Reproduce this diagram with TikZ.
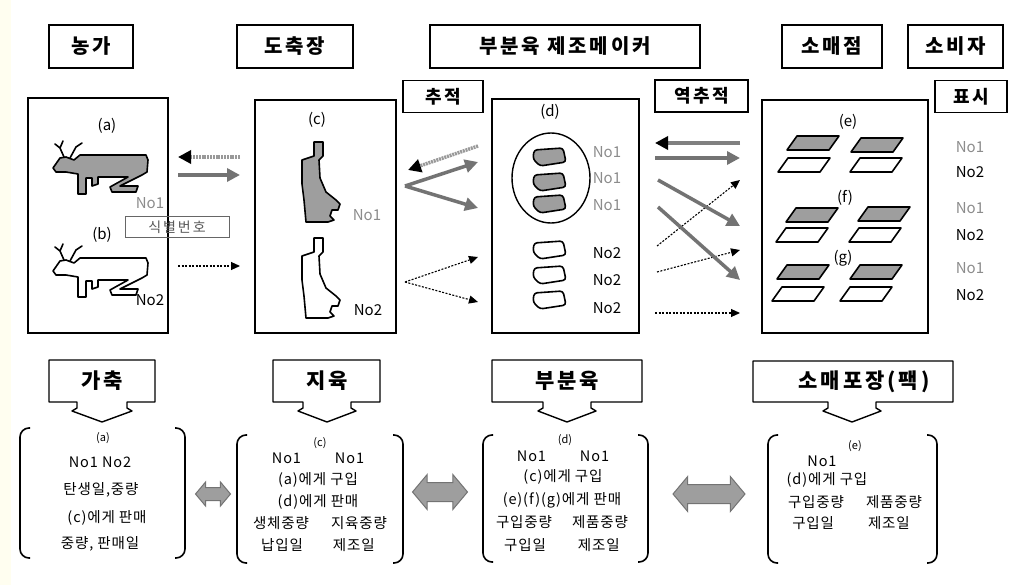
\documentclass[tikz,border=0pt]{standalone}
\usepackage{fontspec}
\setmainfont{Noto Sans CJK KR}
\newfontfamily\hdfont[LetterSpace=14]{Noto Sans CJK KR}
\newfontfamily\btfont[LetterSpace=6]{Noto Sans CJK KR}
\usetikzlibrary{arrows.meta,shapes.arrows}
\tikzset{%
  hdbox/.style={draw,line width=1.4,inner sep=0,minimum height=43,font=\hdfont\bfseries\fontsize{20}{24}\selectfont},
  subbox/.style={draw,line width=1.4,inner sep=0,minimum height=32,font=\hdfont\bfseries\fontsize{18}{22}\selectfont},
  panel/.style={draw,line width=1.4},
  tag/.style={inner sep=0,font=\fontsize{15}{17}\selectfont},
  nlab/.style={inner sep=0,font=\fontsize{15}{17}\selectfont},
  glab/.style={nlab,text=black!45},
  gshape/.style={draw,line width=1.6,fill=black!38,line join=round},
  wshape/.style={draw,line width=1.6,fill=white,line join=round},
  garrow/.style={draw=black!55,line width=3.5,-{Triangle[length=13pt,width=13pt,fill=black!55]}},
  barrow/.style={draw=black!50,line width=3.5,-{Triangle[length=13pt,width=13pt,black]}},
  hatched/.style={draw=black!40,dash pattern=on 2pt off 0.8pt},
  darrow/.style={line width=1.1,dash pattern=on 2pt off 1.5pt,-{Triangle[length=9pt,width=8pt]}},
  callout/.style={draw,line width=1.4,fill=white,line join=round},
  cotext/.style={inner sep=0,font=\hdfont\bfseries\fontsize{21}{24}\selectfont},
  bkt/.style={line width=1.6,rounded corners=9},
  bt/.style={inner sep=0,font=\btfont\fontsize{14.5}{17}\selectfont},
  bts/.style={inner sep=0,font=\fontsize{11}{13}\selectfont},
  dblarr/.style={double arrow,draw=black!55,fill=black!38,line width=1,double arrow tip angle=100},
  cow/.pic={
    \path[pic actions] (1,28) -- (8,18) -- (14,17) -- (22,20) -- (28,15) -- (94,15) -- (96,20)
      -- (95,32) -- (90,35) -- (68,46) -- (86,46) -- (84,52) -- (60,52) -- (58,47) -- (76,37)
      -- (46,37) -- (46,44) -- (40,46) -- (40,38) -- (34,38) -- (34,54) -- (26,54) -- (26,34)
      -- (14,32) -- (4,32) -- cycle;
    \draw[line width=1.6,line cap=round] (12,17) -- (8,8) -- (3,4) (8,8) -- (11,1)
      (18,18) -- (24,7) -- (30,3);
  },
  carcass/.pic={
    \path[pic actions] (14,2) -- (23,2) -- (23,16) -- (19,20) -- (20,38) -- (26,52) -- (36,60)
      -- (40,64) -- (38,70) -- (32,70) -- (30,76) -- (34,80) -- (28,82) -- (6,82) -- (4,60)
      -- (2,44) -- (2,20) -- (14,16) -- cycle;
  },
  cut/.pic={
    \path[pic actions,rounded corners=3] (-16,-7) -- (13,-9) -- (16,5) -- (-10,9) -- (-17,2) -- cycle;
  },
  pack/.pic={
    \path[pic actions] (0,14) -- (42,14) -- (52,0) -- (10,0) -- cycle;
  }
}

\begin{document}
\begin{tikzpicture}[x=1pt,y=-1pt]
  \useasboundingbox (0,0) rectangle (1011,585);
  \fill[white] (0,0) rectangle (1011,585);
  \fill[yellow!6] (0,0) rectangle (11,585);

  \path
    (91,46.5) node (farm)[hdbox,minimum width=84]{농가}
    (295,46.5) node (abat)[hdbox,minimum width=116]{도축장}
    (565,46.5) node (maker)[hdbox,minimum width=270]{부분육 제조메이커}
    (832,46.5) node (shop)[hdbox,minimum width=100]{소매점}
    (955.5,46.5) node (cons)[hdbox,minimum width=95]{소비자}
    (443,96.5) node (trace)[subbox,minimum width=80]{추적}
    (701.5,96) node (rtrace)[subbox,minimum width=93]{역추적}
    (971,96.5) node (mark)[subbox,minimum width=72]{표시};

  % stage panels
  \draw[panel] (28,98) rectangle (168,333);
  \draw[panel] (255,100) rectangle (396,333);
  \draw[panel] (492,99) rectangle (639,333);
  \draw[panel] (762,100) rectangle (928,333);

  % farm
  \pic[gshape] at (52,140) {cow};
  \pic[wshape] at (52,243) {cow};
  \path
    (107,126) node (ta)[tag]{(a)}
    (102,235) node (tb)[tag]{(b)}
    (150,203) node (fn1)[glab]{No1}
    (150,300) node (fn2)[nlab]{No2};
  \node (idn)[draw=black!60,line width=1,text=black!65,inner sep=0,minimum width=104,minimum height=21,
    font=\hdfont\fontsize{14}{16}\selectfont] at (177,227) {식별번호};

  % abattoir
  \pic[gshape] at (300,140) {carcass};
  \pic[wshape] at (300,236) {carcass};
  \path
    (317,120) node (tc)[tag]{(c)}
    (367,215) node (cn1)[glab]{No1}
    (368,310) node (cn2)[nlab]{No2};

  % cutting plant
  \draw[line width=1.4] (551,178) ellipse [x radius=39,y radius=45];
  \pic[gshape] at (550,157) {cut};
  \pic[gshape] at (550,182) {cut};
  \pic[gshape] at (550,204) {cut};
  \pic[wshape] at (550,250) {cut};
  \pic[wshape] at (550,275) {cut};
  \pic[wshape] at (550,300) {cut};
  \path
    (550,112) node (td)[tag]{(d)}
    (607,152) node (dn1)[glab]{No1}
    (607,178) node (dn2)[glab]{No1}
    (607,205) node (dn3)[glab]{No1}
    (607,253) node (dn4)[nlab]{No2}
    (607,280) node (dn5)[nlab]{No2}
    (607,308) node (dn6)[nlab]{No2};

  % retail packs
  \pic[gshape] at (787,136) {pack};
  \pic[gshape] at (851,138) {pack};
  \pic[wshape] at (778,158) {pack};
  \pic[wshape] at (850,158) {pack};
  \pic[gshape] at (786,208) {pack};
  \pic[gshape] at (858,207) {pack};
  \pic[wshape] at (776,228) {pack};
  \pic[wshape] at (849,228) {pack};
  \pic[gshape] at (777,265) {pack};
  \pic[gshape] at (850,265) {pack};
  \pic[wshape] at (772,287) {pack};
  \pic[wshape] at (840,287) {pack};
  \path
    (848,122) node (te)[tag]{(e)}
    (845,198) node (tf)[tag]{(f)}
    (843,258) node (tg)[tag]{(g)}
    (970,147) node (en1)[glab]{No1}
    (970,172) node (en2)[nlab]{No2}
    (970,208) node (en3)[glab]{No1}
    (970,235) node (en4)[nlab]{No2}
    (970,268) node (en5)[glab]{No1}
    (970,295) node (en6)[nlab]{No2};

  % flows between stages
  \path
    (178,157) coordinate (ac1) (240,157) coordinate (ac2)
    (178,175) coordinate (ac3) (240,175) coordinate (ac4)
    (178,266) coordinate (ac5) (240,266) coordinate (ac6)
    (478,146) coordinate (cd1) (408,170) coordinate (cd2)
    (405,186) coordinate (cd3) (478,162) coordinate (cd4) (478,208) coordinate (cd5)
    (405,282) coordinate (cd6) (478,257) coordinate (cd7) (478,302) coordinate (cd8)
    (740,143) coordinate (de1) (655,143) coordinate (de2)
    (655,158) coordinate (de3) (740,158) coordinate (de4)
    (658,180) coordinate (de5) (740,226) coordinate (de6)
    (658,207) coordinate (de7) (740,280) coordinate (de8)
    (657,246) coordinate (de9) (740,180) coordinate (de10)
    (657,272) coordinate (de11) (740,250) coordinate (de12)
    (655,313) coordinate (de13) (740,313) coordinate (de14);
  \draw[barrow,hatched] (ac2) -- (ac1);
  \draw[garrow] (ac3) -- (ac4);
  \draw[darrow] (ac5) -- (ac6);
  \draw[garrow] (cd3) -- (cd4);
  \draw[garrow] (cd3) -- (cd5);
  \draw[barrow,hatched] (cd1) -- (cd2);
  \draw[darrow] (cd6) -- (cd7);
  \draw[darrow] (cd6) -- (cd8);
  \draw[barrow] (de1) -- (de2);
  \draw[garrow] (de3) -- (de4);
  \draw[darrow] (de9) -- (de10);
  \draw[darrow] (de11) -- (de12);
  \draw[garrow] (de5) -- (de6);
  \draw[garrow] (de7) -- (de8);
  \draw[darrow] (de13) -- (de14);

  % record callouts
  \draw[callout] (49,360) -- (155,360) -- (155,402) -- (127,402) -- (127,408) -- (132,411)
    -- (102,422) -- (72,411) -- (77,408) -- (77,402) -- (49,402) -- cycle;
  \draw[callout] (273,360) -- (380,360) -- (380,402) -- (351,402) -- (351,408) -- (356,411)
    -- (327,422) -- (298,411) -- (303,408) -- (303,402) -- (273,402) -- cycle;
  \draw[callout] (492,360) -- (642,360) -- (642,402) -- (591,402) -- (591,408) -- (596,411)
    -- (567,422) -- (538,411) -- (543,408) -- (543,402) -- (492,402) -- cycle;
  \draw[callout] (753,361) -- (953,361) -- (953,402) -- (876,402) -- (876,408) -- (881,411)
    -- (852,422) -- (823,411) -- (828,408) -- (828,402) -- (753,402) -- cycle;
  \path
    (102,381) node (la)[cotext]{가축}
    (327,381) node (lc)[cotext]{지육}
    (567,381) node (ld)[cotext]{부분육}
    (864,382) node (le)[cotext]{소매포장(팩)};

  % brackets
  \draw[bkt] (30,428) -- (20,428) -- (20,558) -- (30,558);
  \draw[bkt] (175,428) -- (185,428) -- (185,558) -- (175,558);
  \draw[bkt] (247,435) -- (237,435) -- (237,563) -- (247,563);
  \draw[bkt] (393,435) -- (403,435) -- (403,563) -- (393,563);
  \draw[bkt] (493,435) -- (483,435) -- (483,562) -- (493,562);
  \draw[bkt] (638,435) -- (648,435) -- (648,562) -- (638,562);
  \draw[bkt] (778,435) -- (768,435) -- (768,563) -- (778,563);
  \draw[bkt] (927,435) -- (937,435) -- (937,563) -- (927,563);

  \path
    (103,438) node (ra0)[bts]{(a)}
    (100,462) node (ra1)[bt]{No1 No2}
    (101,490) node (ra2)[bt]{탄생일,중량}
    (107,518) node (ra3)[bt]{(c)에게 판매}
    (100,544) node (ra4)[bt]{중량, 판매일}
    (320,443) node (rc0)[bts]{(c)}
    (318,458) node (rc1)[bt]{No1\hspace{34pt}No1}
    (318,480) node (rc2)[bt]{(a)에게 구입}
    (318,502) node (rc3)[bt]{(d)에게 판매}
    (320,523) node (rc4)[bt]{생체중량\hspace{22pt}지육중량}
    (318,545) node (rc5)[bt]{납입일\hspace{30pt}제조일}
    (565,440) node (rd0)[bts]{(d)}
    (563,456) node (rd1)[bt]{No1\hspace{34pt}No1}
    (563,477) node (rd2)[bt]{(c)에게 구입}
    (562,500) node (rd3)[bt]{(e)(f)(g)에게 판매}
    (562,522) node (rd4)[bt]{구입중량\hspace{20pt}제품중량}
    (562,545) node (rd5)[bt]{구입일\hspace{32pt}제조일}
    (855,446) node (re0)[bts]{(e)}
    (822,461) node (re1)[bt]{No1}
    (827,480) node (re2)[bt]{(d)에게 구입}
    (855,502) node (re3)[bt]{구입중량\hspace{22pt}제품중량}
    (851,523) node (re4)[bt]{구입일\hspace{34pt}제조일};

  \path
    (213,494) node (ac)[dblarr,minimum height=35,inner sep=6,double arrow head extend=5.5]{}
    (440,492) node (cd)[dblarr,minimum height=55,inner sep=9,double arrow head extend=8]{}
    (709,494) node (de)[dblarr,minimum height=72,inner sep=9,double arrow head extend=8]{};
\end{tikzpicture}
\end{document}
